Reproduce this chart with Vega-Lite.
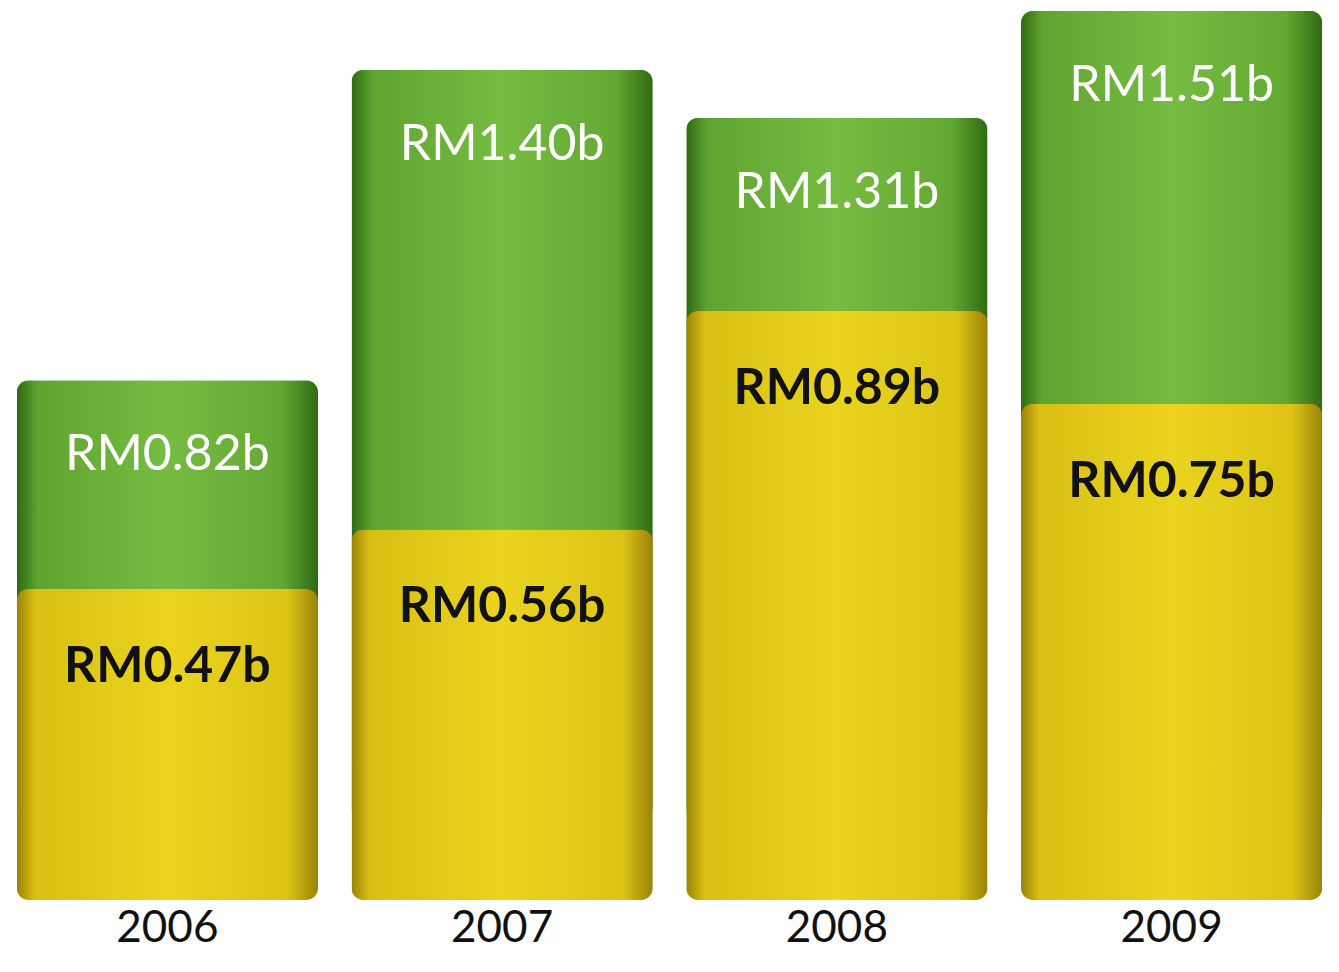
{
  "$schema": "https://vega.github.io/schema/vega-lite/v6.json",
  "autosize": {"type": "none"},
  "padding": {"left": 0, "top": 0, "right": 0, "bottom": 72},
  "width": 1339,
  "height": 900,
  "background": "white",
  "config": {"view": {"stroke": null}},
  "data": {
    "values": [
      {"year": "2006", "series": "green", "value": 0.82, "label": "RM0.82b"},
      {"year": "2007", "series": "green", "value": 1.40, "label": "RM1.40b"},
      {"year": "2008", "series": "green", "value": 1.31, "label": "RM1.31b"},
      {"year": "2009", "series": "green", "value": 1.51, "label": "RM1.51b"},
      {"year": "2006", "series": "yellow", "value": 0.47, "label": "RM0.47b"},
      {"year": "2007", "series": "yellow", "value": 0.56, "label": "RM0.56b"},
      {"year": "2008", "series": "yellow", "value": 0.89, "label": "RM0.89b"},
      {"year": "2009", "series": "yellow", "value": 0.75, "label": "RM0.75b"}
    ]
  },
  "encoding": {
    "x": {
      "field": "year", "type": "nominal",
      "scale": {"paddingInner": 0.1, "paddingOuter": 0.05},
      "axis": {"title": null, "domain": false, "ticks": false, "labelAngle": 0,
               "labelFontSize": 44, "labelFont": "Lato", "labelColor": "#111", "labelPadding": 6}
    }
  },
  "layer": [
    {
      "transform": [{"filter": "datum.series === 'green'"}],
      "encoding": {
        "y": {"field": "value", "type": "quantitative", "scale": {"domain": [-0.15, 1.53], "nice": false, "zero": false}, "axis": null}
      },
      "layer": [
        {
          "mark": {"type": "bar", "cornerRadius": 12,
            "color": {"gradient": "linear", "x1": 0, "x2": 1, "y1": 0, "y2": 0,
              "stops": [
                {"offset": 0, "color": "#2f6a12"},
                {"offset": 0.07, "color": "#5ea430"},
                {"offset": 0.5, "color": "#76bc42"},
                {"offset": 0.88, "color": "#62a832"},
                {"offset": 1, "color": "#2f6a12"}
              ]}}
        },
        {
          "mark": {"type": "text", "dy": 75, "baseline": "middle", "align": "center",
                   "fontSize": 50, "font": "Lato", "color": "white"},
          "encoding": {"text": {"field": "label"}}
        }
      ]
    },
    {
      "transform": [{"filter": "datum.series === 'yellow'"}],
      "encoding": {
        "y": {"field": "value", "type": "quantitative", "scale": {"domain": [0, 1.36], "nice": false}, "axis": null}
      },
      "layer": [
        {
          "mark": {"type": "bar", "cornerRadius": 12,
            "color": {"gradient": "linear", "x1": 0, "x2": 1, "y1": 0, "y2": 0,
              "stops": [
                {"offset": 0, "color": "#9a8208"},
                {"offset": 0.06, "color": "#d8c014"},
                {"offset": 0.5, "color": "#ead41e"},
                {"offset": 0.9, "color": "#dcc416"},
                {"offset": 1, "color": "#9a8208"}
              ]}}
        },
        {
          "mark": {"type": "text", "dy": 78, "baseline": "middle", "align": "center",
                   "fontSize": 50, "font": "Lato", "fontWeight": "bold", "color": "#111"},
          "encoding": {"text": {"field": "label"}}
        }
      ]
    }
  ],
  "resolve": {"scale": {"y": "independent"}}
}
